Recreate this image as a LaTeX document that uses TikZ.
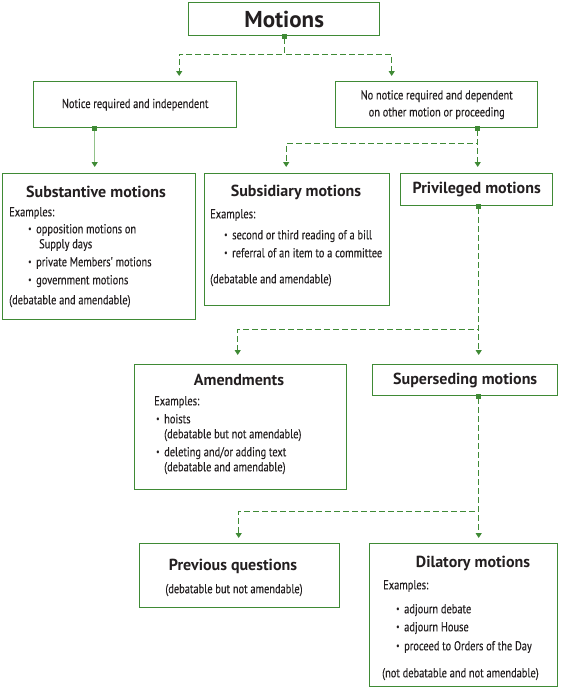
\documentclass[tikz,border=0pt]{standalone}
\usepackage{fontspec}
\setmainfont{PT Sans}
\newfontfamily\condfont[FakeStretch=0.8,FakeBold=0.3]{PT Sans}
\usetikzlibrary{arrows.meta}
\definecolor{green5}{HTML}{3f8a35}
\definecolor{green3}{HTML}{92c28a}
\definecolor{ink}{HTML}{231f20}
\newcommand{\blt}[1]{\hspace*{#1pt}\makebox[8pt][l]{\raisebox{0.25ex}{\fontsize{9}{9}\selectfont\textbullet}}}

\begin{document}
\begin{tikzpicture}[x=1pt, y=-1pt,
  box/.style={draw=green5, line width=1.4pt, inner sep=0pt, anchor=north west, text=ink},
  ttl/.style={font=\bfseries\fontsize{16}{18}\selectfont, text=ink, inner sep=0pt},
  txt/.style={font=\condfont\fontsize{13}{15}\selectfont, text=ink, align=left, inner sep=0pt, anchor=north west},
  dline/.style={green5, line width=1.2pt, dash pattern=on 6pt off 3pt,
    {Square[length=5pt,width=5pt]}-{Triangle[width=6pt,length=5pt]}},
  sline/.style={green3, line width=1.2pt,
    {Square[length=5pt,width=5pt,color=green5]}-{Triangle[width=6pt,length=5pt,color=green5]}}]
\useasboundingbox (0,0) rectangle (560,688);

% boxes
\node[box, minimum width=191, minimum height=33, font=\bfseries\fontsize{23}{26}\selectfont] (motions) at (188,2) {Motions};
\node[box, minimum width=203, minimum height=46, font=\condfont\fontsize{13}{15}\selectfont] (notice) at (33,81) {Notice required and independent};
\node[box, minimum width=202, minimum height=46, align=center, font=\condfont\fontsize{13}{17}\selectfont] (nonotice) at (335,81) {No notice required and dependent\\on other motion or proceeding};
\node[box, minimum width=193, minimum height=146] (subst) at (2,173) {};
\node[box, minimum width=185, minimum height=132] (subsid) at (204,173) {};
\node[box, minimum width=152, minimum height=32, font=\bfseries\fontsize{16}{18}\selectfont] (priv) at (400,173) {Privileged motions};
\node[box, minimum width=212, minimum height=125] (amend) at (134,364) {};
\node[box, minimum width=185, minimum height=31, font=\bfseries\fontsize{16}{18}\selectfont] (supers) at (372,364) {Superseding motions};
\node[box, minimum width=200, minimum height=64] (prevq) at (139,543) {};
\node[box, minimum width=188, minimum height=143] (dilat) at (369,543) {};

% texts
\node[ttl] (subst-t) at (96,192) {Substantive motions};
\node[txt] (subst-b) at (9,207) {Examples:\\[2pt]
  \blt{19}opposition motions on\\
  \hspace*{30pt}Supply days\\[3pt]
  \blt{19}private Members' motions\\[3pt]
  \blt{19}government motions\\[5pt]
  (debatable and amendable)};
\node[ttl] (subsid-t) at (296,192) {Subsidiary motions};
\node[txt] (subsid-b) at (210,209) {Examples:\\[6pt]
  \blt{14}second or third reading of a bill\\[3pt]
  \blt{14}referral of an item to a committee\\[11pt]
  (debatable and amendable)};
\node[ttl] (amend-t) at (239,380) {Amendments};
\node[txt] (amend-b) at (154,396) {Examples:\\[3pt]
  \blt{2}hoists\\
  \hspace*{10pt}(debatable but not amendable)\\[3pt]
  \blt{2}deleting and/or adding text\\
  \hspace*{10pt}(debatable and amendable)};
\node[ttl] (prevq-t) at (233,566) {Previous questions};
\node[txt, anchor=center] (prevq-b) at (234,590) {(debatable but not amendable)};
\node[ttl] (dilat-t) at (473,563) {Dilatory motions};
\node[txt] (dilat-b) at (383,580) {Examples:\\[9pt]
  \blt{13}adjourn debate\\[3pt]
  \blt{13}adjourn House\\[4pt]
  \blt{13}proceed to Orders of the Day\\[12pt]
  \hspace*{-1pt}(not debatable and not amendable)};

% connectors
\draw[dline, shorten >=5pt] ([yshift=2.5pt]motions.south) -- ++(0,20.5) -| ([xshift=44pt]notice.north);
\draw[dline, shorten >=5pt] ([yshift=2.5pt]motions.south) -- ++(0,20.5) -| ([xshift=-45pt]nonotice.north);
\draw[sline, shorten >=6pt] ([xshift=-40.5pt,yshift=2.5pt]notice.south) -- ([xshift=-40.5pt]notice.south |- subst.north);
\draw[dline, shorten >=6pt] ([xshift=41pt,yshift=2.5pt]nonotice.south) -- ++(0,17.5) -| ([xshift=-11pt]subsid.north);
\draw[dline, shorten >=6pt] ([xshift=41pt,yshift=2.5pt]nonotice.south) -- ([xshift=41pt]nonotice.south |- priv.north);
\draw[dline, shorten >=9pt] ([xshift=2pt,yshift=2.5pt]priv.south) -- ++(0,125.5) -| ([xshift=-3pt]amend.north);
\draw[dline, shorten >=9pt] ([xshift=2pt,yshift=2.5pt]priv.south) -- ([xshift=2pt]priv.south |- supers.north);
\draw[dline, shorten >=5pt] ([xshift=13.5pt,yshift=2.5pt]supers.south) -- ++(0,117.5) -| ([xshift=-1pt]prevq.north);
\draw[dline, shorten >=5pt] ([xshift=13.5pt,yshift=2.5pt]supers.south) -- ([xshift=13.5pt]supers.south |- dilat.north);
\end{tikzpicture}
\end{document}
